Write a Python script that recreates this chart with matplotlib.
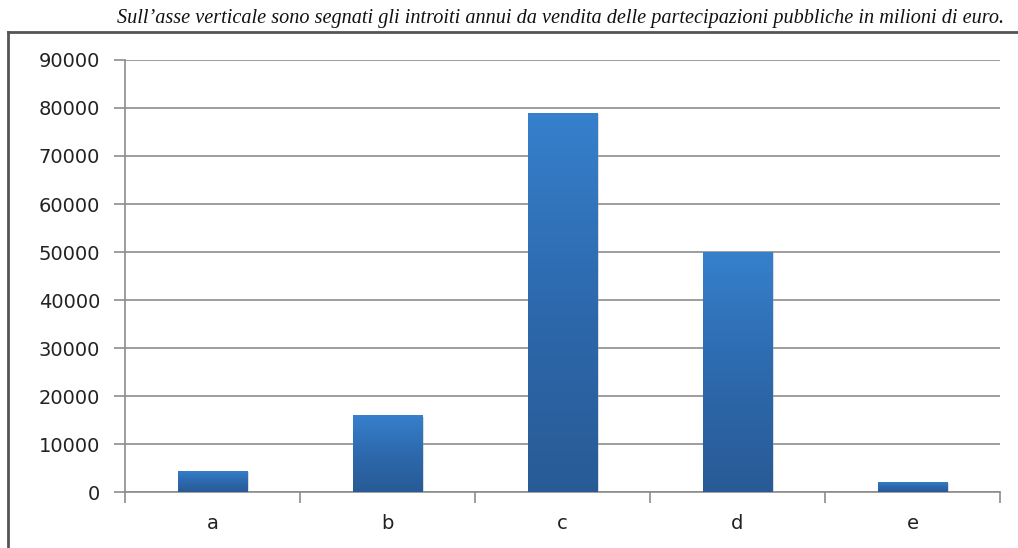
import numpy as np
import matplotlib
matplotlib.use('Agg')
from matplotlib import pyplot as plt
from matplotlib.colors import LinearSegmentedColormap
from matplotlib.lines import Line2D
from matplotlib import patheffects

categorie = ['a', 'b', 'c', 'd', 'e']
introiti = [4400, 16000, 79000, 50000, 2100]
y_ticks = list(range(0, 90001, 10000))
titolo = "Sull\u2019asse verticale sono segnati gli introiti annui da vendita delle partecipazioni pubbliche in milioni di euro."

fig = plt.figure(figsize=(10.18, 5.48), dpi=100)
ax = fig.add_axes([125 / 1018, 56 / 548, 875 / 1018, 432 / 548])

x = np.arange(len(categorie))
bars = ax.bar(x, introiti, width=0.4, color='#2f6fb4', zorder=3,
              path_effects=[patheffects.SimplePatchShadow(offset=(1, -1), shadow_rgbFace='#999999', alpha=0.35),
                            patheffects.Normal()])

# gradiente verticale sulle barre (chiaro sopra, scuro sotto)
cmap = LinearSegmentedColormap.from_list('blu', ['#285b96', '#2d69ad', '#3680cc'])
grad = np.linspace(0, 1, 256).reshape(-1, 1)
for b in bars:
    x0, y0 = b.get_x(), b.get_y()
    im = ax.imshow(grad, extent=[x0, x0 + b.get_width(), y0, y0 + b.get_height()],
                   origin='lower', cmap=cmap, aspect='auto', zorder=4)
    im.set_clip_path(b)

ax.set_xlim(-0.5, len(categorie) - 0.5)
ax.set_ylim(0, 90000)
ax.set_yticks(y_ticks)
ax.set_yticklabels([str(v) for v in y_ticks])
ax.set_xticks(x)
ax.set_xticklabels(categorie)
ax.set_xticks(np.arange(-0.5, len(categorie)), minor=True)

ax.yaxis.grid(True, color='#8c8c8c', linewidth=1.2, zorder=0)
ax.set_axisbelow(True)
for s in ['top', 'right']:
    ax.spines[s].set_visible(False)
for s in ['left', 'bottom']:
    ax.spines[s].set_color('#8c8c8c')
    ax.spines[s].set_linewidth(1.2)

ax.tick_params(axis='y', which='major', direction='out', length=8, width=1.2, color='#8c8c8c',
               labelsize=14, pad=10, labelcolor='#222222')
ax.tick_params(axis='x', which='major', length=0, labelsize=14, pad=16, labelcolor='#222222')
ax.tick_params(axis='x', which='minor', direction='out', length=8, width=1.2, color='#8c8c8c')

# cornice esterna
fig.add_artist(Line2D([8 / 1018, 8 / 1018], [0, 1 - 32 / 548], transform=fig.transFigure,
                      color='#555555', linewidth=2))
fig.add_artist(Line2D([8 / 1018, 1], [1 - 32 / 548, 1 - 32 / 548], transform=fig.transFigure,
                      color='#555555', linewidth=2))

fig.text(561 / 1018, 1 - 18 / 548, titolo, ha='center', va='center', fontsize=14.6,
         family='Liberation Serif', style='italic', color='#111111')

fig.savefig('out.png', dpi=100)
